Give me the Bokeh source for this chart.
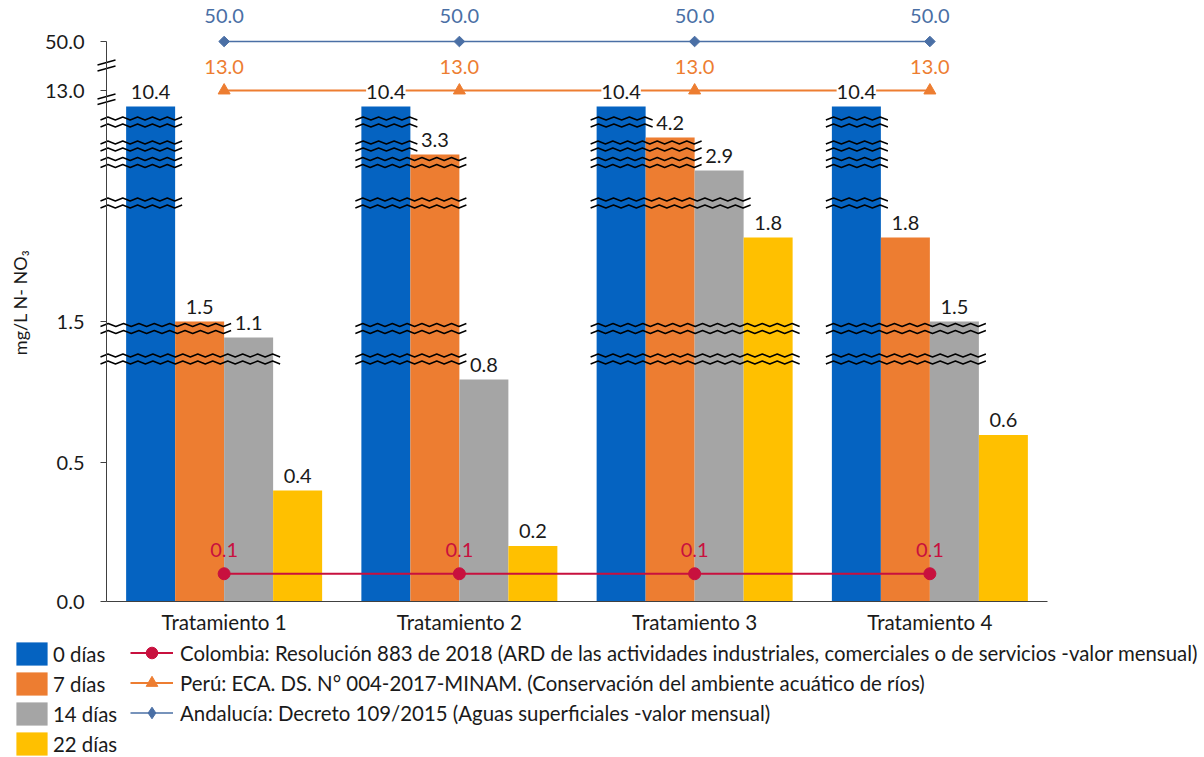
import numpy as np
from bokeh.plotting import figure
from bokeh.models import Range1d, FixedTicker, ColumnDataSource, Legend, LegendItem
from bokeh.core.properties import value
from bokeh.embed import file_html
from bokeh.resources import INLINE

# ---------------------------------------------------------------- data
treatments = ["Tratamiento 1", "Tratamiento 2", "Tratamiento 3", "Tratamiento 4"]
series_names = ["0 días", "7 días", "14 días", "22 días"]
dias_0 = [10.4, 10.4, 10.4, 10.4]
dias_7 = [1.5, 3.3, 4.2, 1.8]
dias_14 = [1.1, 0.8, 2.9, 1.5]
dias_22 = [0.4, 0.2, 1.8, 0.6]

colombia = [0.1, 0.1, 0.1, 0.1]
peru = [13.0, 13.0, 13.0, 13.0]
andalucia = [50.0, 50.0, 50.0, 50.0]
colombia_name = ("Colombia: Resolución 883 de 2018 (ARD de las actividades industriales, "
                 "comerciales o de servicios -valor mensual)")
peru_name = "Perú: ECA. DS. N° 004-2017-MINAM. (Conservación del ambiente acuático de ríos)"
andalucia_name = "Andalucía: Decreto 109/2015 (Aguas superficiales -valor mensual)"

y_tick_values = [0.0, 0.5, 1.5, 13.0, 50.0]
y_title = "mg/L N- NO₃"

# ---------------------------------------------------------------- broken value axis
# piecewise scale: value -> height (px above the baseline)
AXIS_VALUES = [0.0, 0.8, 1.1, 1.5, 1.8, 2.9, 3.3, 4.2, 10.4, 13.0, 50.0]
AXIS_HEIGHTS = [0, 222, 264, 280, 364, 431, 447, 464, 495, 511, 560]


def to_axis(v):
    return np.interp(np.asarray(v, dtype=float), AXIS_VALUES, AXIS_HEIGHTS)


# heights of the zig-zag break bands drawn across tall bars
BREAK_LEVELS = [479.5, 455.5, 439.0, 398.5, 273.0, 242.5]
BREAK_GAP = 3.5
# double-slash break marks on the value axis
AXIS_SLASHES = [539.0, 533.0, 505.0, 499.5]

# ---------------------------------------------------------------- layout
W, H = 1204, 757
AXIS_X = 106            # screen x of the value axis
BASE_Y = 601            # screen y of the category axis
UNIT_PX = 235.25        # px per category

FONT = value("Lato")
FS = "20px"
TXT = "#1a1a1a"
BAR_COLORS = ["#0563C1", "#ED7D31", "#A5A5A5", "#FFC000"]
COL_COLOMBIA = "#C8103E"
COL_PERU = "#ED7D31"
COL_ANDALUCIA = "#4A6FA5"

x_start = 0.5 - AXIS_X / UNIT_PX
p = figure(width=W, height=H,
           x_range=Range1d(x_start, x_start + W / UNIT_PX),
           y_range=Range1d(BASE_Y - H, BASE_Y),
           output_backend="svg", toolbar_location=None, min_border=0)
p.outline_line_color = None
p.xgrid.grid_line_color = None
p.ygrid.grid_line_color = None
p.background_fill_color = "white"
p.border_fill_color = "white"

xs = np.arange(1, len(treatments) + 1, dtype=float)
bar_w = 49.0 / UNIT_PX
offsets = [-1.5, -0.5, 0.5, 1.5]
bar_series = [dias_0, dias_7, dias_14, dias_22]

# ---------------------------------------------------------------- bars
bar_sources, bar_renderers = [], []
for vals, col, off in zip(bar_series, BAR_COLORS, offsets):
    src = ColumnDataSource(dict(x=xs + off * bar_w, top=to_axis(vals),
                                label=[f"{v:.1f}" for v in vals]))
    r = p.vbar(x="x", top="top", bottom=0, width=bar_w, source=src,
               fill_color=col, line_color=None)
    bar_sources.append(src)
    bar_renderers.append(r)


# ---------------------------------------------------------------- break bands
def zigzag(x0, x1, y, half_period, amp):
    n = max(2, int(round((x1 - x0) / half_period)) + 1)
    zx = np.linspace(x0, x1, n)
    zy = y + amp * np.where(np.arange(n) % 2 == 0, -1.0, 1.0)
    return list(zx), list(zy)


zz_x, zz_y = [], []
half = 7.5 / UNIT_PX
for g in range(len(treatments)):
    tops = [float(to_axis(s[g])) for s in bar_series]
    left_edge = xs[g] - 2 * bar_w
    for level in BREAK_LEVELS:
        n = 0
        while n < len(tops) and tops[n] > level + BREAK_GAP:
            n += 1
        if n == 0:
            continue
        x0 = (0.5 if g == 0 else left_edge) - 6 / UNIT_PX
        x1 = left_edge + n * bar_w + 7 / UNIT_PX
        for dy in (BREAK_GAP, -BREAK_GAP):
            a, b = zigzag(x0, x1, level + dy, half, 1.5)
            zz_x.append(a)
            zz_y.append(b)
p.multi_line(xs=zz_x, ys=zz_y, line_color="black", line_width=1.4)

sx0 = 0.5 - 9 / UNIT_PX
sx1 = 0.5 + 9 / UNIT_PX
p.segment(x0=[sx0] * len(AXIS_SLASHES), x1=[sx1] * len(AXIS_SLASHES),
          y0=[h - 2.5 for h in AXIS_SLASHES], y1=[h + 2.5 for h in AXIS_SLASHES],
          line_color="black", line_width=1.3)

# ---------------------------------------------------------------- reference lines
line_specs = [
    (colombia, COL_COLOMBIA, "circle", 12, 0.0, 2.0, -24),
    (peru, COL_PERU, "triangle", 12, 0.0, 2.0, -24),
    (andalucia, COL_ANDALUCIA, "square", 7.5, np.pi / 4, 1.7, -26),
]
for vals, col, marker, size, ang, lw, yoff in line_specs:
    src = ColumnDataSource(dict(x=xs, y=to_axis(vals), label=[f"{v:.1f}" for v in vals]))
    p.line("x", "y", source=src, line_color=col, line_width=lw)
    p.scatter("x", "y", source=src, marker=marker, size=size, angle=ang,
              fill_color=col, line_color=col)
    p.text("x", "y", text="label", source=src, text_color=col,
           text_align="center", text_baseline="middle", y_offset=yoff,
           text_font=FONT, text_font_size=FS)

# bar value labels (white box so the 13.0 line passes behind them)
for src in bar_sources:
    p.text("x", "top", text="label", source=src, text_color=TXT,
           text_align="center", text_baseline="middle", y_offset=-15,
           text_font=FONT, text_font_size=FS,
           background_fill_color="white")

# ---------------------------------------------------------------- axes
ya = p.yaxis[0]
ya.fixed_location = 0.5
ya.bounds = (0, AXIS_HEIGHTS[-1])
tick_pos = [float(t) for t in to_axis(y_tick_values)]
ya.ticker = FixedTicker(ticks=tick_pos)
ya.major_label_overrides = {t: f"{v:.1f}" for t, v in zip(tick_pos, y_tick_values)}
ya.major_tick_out = 6
ya.major_tick_in = 0
ya.minor_tick_line_color = None
ya.major_label_standoff = 16
ya.axis_line_color = "#404040"
ya.major_tick_line_color = "#404040"
ya.major_label_text_font = "Lato"
ya.major_label_text_font_size = FS
ya.major_label_text_color = TXT

xa = p.xaxis[0]
xa.fixed_location = 0
xa.bounds = (0.5, 4.5)
xa.ticker = FixedTicker(ticks=list(xs))
xa.major_label_overrides = {float(x): t for x, t in zip(xs, treatments)}
xa.major_tick_line_color = None
xa.major_tick_out = 0
xa.major_tick_in = 0
xa.minor_tick_line_color = None
xa.major_label_standoff = 8
xa.axis_line_color = "#404040"
xa.major_label_text_font = "Lato"
xa.major_label_text_font_size = "20.6px"
xa.major_label_text_color = TXT

# value-axis title, rotated, centred on the plotting area
p.text(x=[0.5 - 87 / UNIT_PX], y=[BASE_Y - 302], text=[y_title], angle=np.pi / 2,
       text_align="center", text_baseline="middle", text_color=TXT,
       text_font=FONT, text_font_size="18px")

# ---------------------------------------------------------------- legends
# line-series legend glyphs use stand-in renderers parked outside the view
off_x, off_y = [x_start - 10], [BASE_Y - H - 100]
line_items = []
for name, col, marker, lw in [(colombia_name, COL_COLOMBIA, "circle", 2.0),
                              (peru_name, COL_PERU, "triangle", 2.0),
                              (andalucia_name, COL_ANDALUCIA, "diamond", 1.7)]:
    rl = p.line(x=off_x, y=off_y, line_color=col, line_width=lw)
    rs = p.scatter(x=off_x, y=off_y, marker=marker, size=10, fill_color=col, line_color=col)
    line_items.append(LegendItem(label=name, renderers=[rl, rs]))

bar_items = [LegendItem(label=name, renderers=[r])
             for name, r in zip(series_names, bar_renderers)]

common = dict(padding=0, margin=0, spacing=1, border_line_color=None,
              background_fill_alpha=0, label_text_font="Lato",
              label_text_font_size="20.4px", label_text_color=TXT,
              glyph_height=29)
leg_a = Legend(items=bar_items, location=(12, -1), glyph_width=39,
               label_standoff=2, **common)
leg_b = Legend(items=line_items, location=(130, 30), glyph_width=43,
               label_standoff=7, **common)
p.add_layout(leg_a)
p.add_layout(leg_b)

open("out.html", "w").write(file_html(p, INLINE))
